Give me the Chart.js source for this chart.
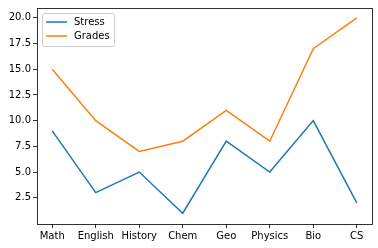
<!DOCTYPE html>
<html><head><meta charset="utf-8">
<script src="https://cdn.jsdelivr.net/npm/chart.js@4"></script>
<style>html,body{margin:0;padding:0;background:#fff}#wrap{width:378px;height:248px}</style>
</head><body><div id="wrap"><canvas id="c" width="378" height="248"></canvas></div>
<script>
const categories = ["Math","English","History","Chem","Geo","Physics","Bio","CS"];
const stress = [9,3,5,1,8,5,10,2];
const grades = [15,10,7,8,11,8,17,20];
const yTicks = [2.5,5,7.5,10,12.5,15,17.5,20];

const FONT = {family:"DejaVu Sans", size:10};
const frame = {
  id:'frame',
  afterDatasetsDraw(chart){
    const {ctx, chartArea:a} = chart;
    ctx.save();
    ctx.strokeStyle='#000'; ctx.lineWidth=0.8;
    ctx.strokeRect(Math.round(a.left)+0.5, Math.round(a.top)+0.5, Math.round(a.right-a.left), Math.round(a.bottom-a.top));
    // legend
    const x0=a.left+5.5, y0=a.top+5.5, w=72, h=33;
    ctx.fillStyle='rgba(255,255,255,0.8)';
    ctx.strokeStyle='#cccccc'; ctx.lineWidth=1;
    ctx.beginPath(); ctx.roundRect(x0,y0,w,h,2); ctx.fill(); ctx.stroke();
    ctx.font='10px "DejaVu Sans"'; ctx.textBaseline='middle'; ctx.fillStyle='#000';
    chart.data.datasets.forEach((ds,i)=>{
      const y=a.top+14+i*14;
      ctx.strokeStyle=ds.borderColor; ctx.lineWidth=1.5;
      ctx.beginPath(); ctx.moveTo(a.left+9,y); ctx.lineTo(a.left+30,y); ctx.stroke();
      ctx.fillStyle='#000'; ctx.fillText(ds.label, a.left+37, y);
    });
    ctx.restore();
  }
};
new Chart(document.getElementById('c'), {
  type:'line',
  data:{datasets:[
    {label:'Stress', data:stress.map((v,i)=>({x:i,y:v})), borderColor:'#1f77b4', borderWidth:1.5, pointRadius:0, tension:0},
    {label:'Grades', data:grades.map((v,i)=>({x:i,y:v})), borderColor:'#ff7f0e', borderWidth:1.5, pointRadius:0, tension:0}
  ]},
  options:{
    responsive:false, animation:false, devicePixelRatio:1,
    layout:{padding:{top:6,right:6,left:0,bottom:0}},
    plugins:{legend:{display:false}, tooltip:{enabled:false}},
    scales:{
      x:{type:'linear', min:-0.35, max:7.35,
        afterBuildTicks(s){ s.ticks = categories.map((c,i)=>({value:i})); },
        afterFit(s){ s.height=24; },
        ticks:{callback:(v)=>categories[v], color:'#000', font:FONT, padding:2, maxRotation:0, autoSkip:false},
        grid:{drawOnChartArea:false, tickLength:4, color:'#000', tickWidth:0.8},
        border:{display:false}
      },
      y:{type:'linear', min:0.05-0.1, max:20.95,
        afterBuildTicks(s){ s.ticks = yTicks.map(v=>({value:v})); },
        afterFit(s){ s.width=37; },
        ticks:{callback:(v)=>v.toFixed(1), color:'#000', font:FONT, padding:2},
        grid:{drawOnChartArea:false, tickLength:4, color:'#000', tickWidth:0.8},
        border:{display:false}
      }
    }
  },
  plugins:[frame]
});
</script></body></html>
